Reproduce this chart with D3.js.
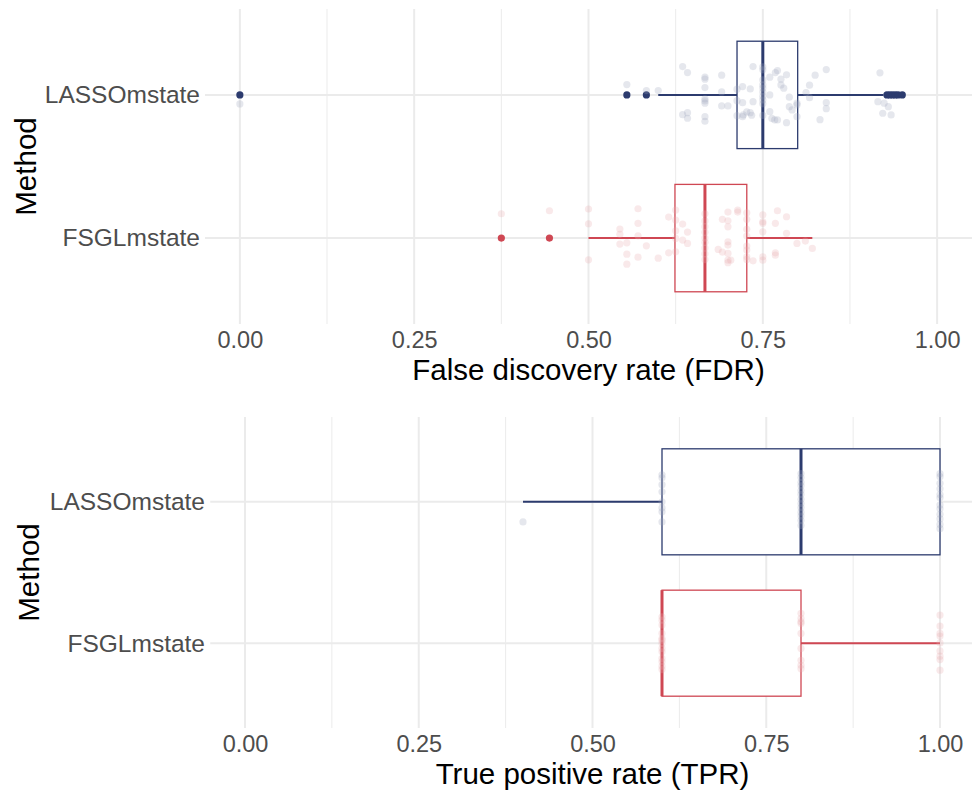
<!DOCTYPE html>
<html>
<head>
<meta charset="utf-8">
<script src="https://cdn.jsdelivr.net/npm/d3@7"></script>
<style>
  html, body { margin: 0; padding: 0; background: #fff; }
  svg { display: block; font-family: "Liberation Sans", Arial, sans-serif; }
</style>
</head>
<body>
<svg id="chart" width="972" height="792"></svg>
<script>
// ---------------- DATA ----------------
const methods = ["LASSOmstate", "FSGLmstate"];
const methodColors = ["#2C3B6E", "#CF4753"];
const xTicks = [0, 0.25, 0.5, 0.75, 1];
const xTickLabels = ["0.00", "0.25", "0.50", "0.75", "1.00"];
const xMinorTicks = [0.125, 0.375, 0.625, 0.875];

// FDR boxplot statistics (LASSOmstate, FSGLmstate)
const fdrQ1 = [0.713, 0.624];
const fdrMedian = [0.75, 0.667];
const fdrQ3 = [0.8, 0.727];
const fdrWhiskerLow = [0.6, 0.5];
const fdrWhiskerHigh = [0.923, 0.821];
const fdrOutliersLASSO = [0, 0.555, 0.583, 0.928, 0.932, 0.936, 0.94, 0.944, 0.95];
const fdrOutliersFSGL = [0.375, 0.444];

// FDR jittered observations: [value, vertical jitter (category units)]
const fdrPointsLASSO = [
  [0, 0.063], [0.555, -0.072], [0.583, -0.030], [0.6, -0.030],
  [0.635, -0.198], [0.642, -0.156], [0.635, 0.138], [0.642, 0.124], [0.642, 0.163],
  [0.667, -0.124], [0.667, -0.110], [0.667, -0.051], [0.667, 0.028], [0.667, 0.042],
  [0.667, 0.058], [0.667, 0.152], [0.667, 0.184],
  [0.691, -0.138], [0.691, -0.021], [0.691, 0.077], [0.7, 0.077],
  [0.713, -0.040], [0.713, 0.040], [0.713, 0.145],
  [0.721, -0.058], [0.721, 0.054], [0.721, 0.152],
  [0.732, -0.042], [0.736, -0.198], [0.736, 0.047], [0.727, 0.119], [0.732, 0.124],
  [0.722, 0.140], [0.734, 0.142],
  [0.75, -0.196], [0.75, -0.175], [0.75, -0.105], [0.75, -0.070], [0.75, -0.048],
  [0.75, -0.020], [0.75, 0.010], [0.75, 0.035], [0.75, 0.062], [0.75, 0.143],
  [0.76, -0.124], [0.76, 0.0], [0.76, 0.117],
  [0.763, 0.164], [0.767, 0.175], [0.771, 0.175],
  [0.768, -0.156], [0.771, -0.170], [0.776, -0.110], [0.776, -0.070], [0.78, -0.047],
  [0.784, -0.140], [0.784, 0.194], [0.788, 0.016], [0.788, 0.082], [0.792, 0.105],
  [0.799, 0.058], [0.799, 0.070], [0.799, 0.152],
  [0.812, -0.016], [0.817, -0.068], [0.817, 0.019], [0.825, -0.138], [0.832, 0.173],
  [0.841, -0.177], [0.841, 0.054], [0.841, 0.096],
  [0.918, -0.154], [0.915, 0.047], [0.924, 0.058], [0.930, 0.082], [0.922, 0.128], [0.934, 0.140]
];
const fdrPointsFSGL = [
  [0.375, -0.170], [0.444, -0.191],
  [0.5, -0.203], [0.5, -0.100], [0.5, 0.152],
  [0.545, -0.063], [0.545, -0.026], [0.545, 0.042],
  [0.555, 0.033], [0.555, 0.112], [0.555, 0.182],
  [0.571, -0.205], [0.571, -0.103], [0.571, -0.016], [0.571, 0.133],
  [0.583, 0.054], [0.6, 0.140], [0.615, -0.147], [0.615, 0.103],
  [0.625, -0.196], [0.625, -0.126], [0.625, -0.051], [0.625, 0.002], [0.625, 0.096],
  [0.635, -0.098], [0.635, 0.014], [0.642, -0.042], [0.642, 0.037],
  [0.667, -0.170], [0.667, -0.120], [0.667, -0.080], [0.667, -0.040], [0.667, 0.0],
  [0.667, 0.030], [0.667, 0.070], [0.667, 0.110], [0.667, 0.150],
  [0.686, 0.079], [0.692, -0.131], [0.692, 0.098], [0.704, 0.154],
  [0.7, -0.182], [0.7, -0.121], [0.7, -0.079], [0.7, 0.026], [0.7, 0.049],
  [0.7, 0.107], [0.7, 0.154], [0.7, 0.172],
  [0.714, -0.196], [0.714, -0.182],
  [0.727, -0.177], [0.727, -0.131], [0.727, -0.061], [0.727, -0.014], [0.727, 0.056],
  [0.727, 0.084], [0.727, 0.131], [0.727, 0.149],
  [0.736, 0.159],
  [0.75, -0.163], [0.75, -0.114], [0.75, -0.103], [0.75, -0.044], [0.75, 0.131], [0.75, 0.154],
  [0.768, -0.103], [0.768, 0.103], [0.768, 0.119], [0.771, -0.191],
  [0.784, -0.149], [0.784, -0.033], [0.799, 0.037], [0.811, 0.021], [0.821, 0.072]
];

// TPR boxplot statistics (LASSOmstate, FSGLmstate)
const tprQ1 = [0.6, 0.6];
const tprMedian = [0.8, 0.6];
const tprQ3 = [1.0, 0.8];
const tprWhiskerLow = [0.4, 0.6];
const tprWhiskerHigh = [1.0, 1.0];
const tprOutliersLASSO = [];
const tprOutliersFSGL = [];

// TPR jittered observations: [value, vertical jitter (category units)]
const tprPointsLASSO = [
  [0.4, 0.142],
  [0.6, -0.191], [0.6, -0.170], [0.6, -0.121], [0.6, -0.071], [0.6, 0.0],
  [0.6, 0.043], [0.6, 0.071], [0.6, 0.142],
  [0.8, -0.200], [0.8, -0.172], [0.8, -0.138], [0.8, -0.113], [0.8, -0.080], [0.8, -0.052],
  [0.8, -0.018], [0.8, 0.012], [0.8, 0.041], [0.8, 0.073], [0.8, 0.101], [0.8, 0.133], [0.8, 0.168],
  [1.0, -0.199], [1.0, -0.178], [1.0, -0.131], [1.0, -0.092], [1.0, -0.051], [1.0, -0.028],
  [1.0, 0.022], [1.0, 0.049], [1.0, 0.088], [1.0, 0.121], [1.0, 0.160], [1.0, 0.190]
];
const tprPointsFSGL = [
  [0.6, -0.187], [0.6, -0.163], [0.6, -0.128], [0.6, -0.069], [0.6, -0.033], [0.6, -0.021],
  [0.6, 0.002], [0.6, 0.037], [0.6, 0.061], [0.6, 0.108], [0.6, 0.132], [0.6, 0.163], [0.6, 0.187],
  [0.8, -0.211], [0.8, -0.175], [0.8, -0.151], [0.8, -0.140], [0.8, -0.069], [0.8, 0.037],
  [0.8, 0.121], [0.8, 0.156], [0.8, 0.180],
  [1.0, -0.199], [1.0, -0.121], [1.0, -0.069], [1.0, -0.050], [1.0, -0.002], [1.0, 0.055],
  [1.0, 0.092], [1.0, 0.116], [1.0, 0.191]
];

// ---------------- DRAWING ----------------
const svg = d3.select("#chart");

function panel(cfg) {
  const g = svg.append("g");
  const x = d3.scaleLinear().domain([-0.05, 1.05]).range([cfg.left, cfg.right]);
  const y = d3.scalePoint().domain(methods).range([cfg.top, cfg.bottom]).padding(0.6);
  const step = y.step();

  // grid
  g.append("g").selectAll("line.minor").data(xMinorTicks).join("line")
    .attr("x1", d => x(d)).attr("x2", d => x(d))
    .attr("y1", cfg.top).attr("y2", cfg.bottom)
    .attr("stroke", "#EBEBEB").attr("stroke-width", 1);
  g.append("g").selectAll("line.major").data(xTicks).join("line")
    .attr("x1", d => x(d)).attr("x2", d => x(d))
    .attr("y1", cfg.top).attr("y2", cfg.bottom)
    .attr("stroke", "#EBEBEB").attr("stroke-width", 2);
  g.append("g").selectAll("line.hgrid").data(methods).join("line")
    .attr("x1", cfg.left).attr("x2", cfg.right)
    .attr("y1", d => y(d)).attr("y2", d => y(d))
    .attr("stroke", "#EBEBEB").attr("stroke-width", 2);

  // x axis (labels only, theme_minimal)
  const xAxis = d3.axisBottom(x).tickValues(xTicks)
    .tickFormat((d, i) => xTickLabels[i]).tickSize(0).tickPadding(0);
  const ax = g.append("g").attr("transform", `translate(0,${cfg.tickY})`).call(xAxis);
  ax.select(".domain").remove();
  ax.selectAll("text").attr("fill", "#4D4D4D").attr("font-size", 23.5)
    .attr("dy", "0").attr("y", 0).attr("font-family", "Liberation Sans, Arial, sans-serif");

  // y axis
  const yAxis = d3.axisLeft(y).tickSize(0).tickPadding(0);
  const ay = g.append("g").attr("transform", `translate(${cfg.yLabelX},0)`).call(yAxis);
  ay.select(".domain").remove();
  ay.selectAll("text").attr("fill", "#4D4D4D").attr("font-size", 24.5)
    .attr("font-family", "Liberation Sans, Arial, sans-serif");

  // titles
  g.append("text").attr("x", (x(0) + x(1)) / 2).attr("y", cfg.titleY)
    .attr("text-anchor", "middle").attr("font-size", 29.5).attr("fill", "#000")
    .text(cfg.xTitle);
  g.append("text")
    .attr("transform", `translate(${cfg.yTitleX},${(cfg.top + cfg.bottom) / 2}) rotate(-90)`)
    .attr("text-anchor", "middle").attr("font-size", 29.5).attr("fill", "#000")
    .text("Method");

  const bw = step * 0.75;
  methods.forEach((m, i) => {
    const col = methodColors[i];
    const cy = y(m);
    const bg = g.append("g");
    // whiskers
    bg.append("line").attr("x1", x(cfg.wl[i])).attr("x2", x(cfg.q1[i]))
      .attr("y1", cy).attr("y2", cy).attr("stroke", col).attr("stroke-width", 2);
    bg.append("line").attr("x1", x(cfg.q3[i])).attr("x2", x(cfg.wh[i]))
      .attr("y1", cy).attr("y2", cy).attr("stroke", col).attr("stroke-width", 2);
    // box
    bg.append("rect").attr("x", x(cfg.q1[i])).attr("y", cy - bw / 2)
      .attr("width", x(cfg.q3[i]) - x(cfg.q1[i])).attr("height", bw)
      .attr("fill", "#fff").attr("stroke", col).attr("stroke-width", 1.3);
    // median
    bg.append("line").attr("x1", x(cfg.med[i])).attr("x2", x(cfg.med[i]))
      .attr("y1", cy - bw / 2).attr("y2", cy + bw / 2)
      .attr("stroke", col).attr("stroke-width", 3);
    // outliers
    bg.selectAll("circle.out").data(cfg.outliers[i]).join("circle")
      .attr("cx", d => x(d)).attr("cy", cy).attr("r", 3.6).attr("fill", col);
  });

  // jittered points on top
  methods.forEach((m, i) => {
    const col = methodColors[i];
    const tint = d3.interpolateRgb(col, "#ffffff")(0.55);
    g.append("g").selectAll("circle").data(cfg.points[i]).join("circle")
      .attr("cx", d => x(d[0]))
      .attr("cy", d => y(m) + d[1] * step)
      .attr("r", 3.6).attr("fill", tint).attr("fill-opacity", 0.27);
  });
}

panel({
  left: 205, right: 972, top: 9, bottom: 324,
  tickY: 348, titleY: 380, yLabelX: 200, yTitleX: 36,
  xTitle: "False discovery rate (FDR)",
  q1: fdrQ1, med: fdrMedian, q3: fdrQ3, wl: fdrWhiskerLow, wh: fdrWhiskerHigh,
  outliers: [fdrOutliersLASSO, fdrOutliersFSGL],
  points: [fdrPointsLASSO, fdrPointsFSGL]
});

panel({
  left: 210.25, right: 974.75, top: 417, bottom: 728,
  tickY: 752, titleY: 784, yLabelX: 205, yTitleX: 39,
  xTitle: "True positive rate (TPR)",
  q1: tprQ1, med: tprMedian, q3: tprQ3, wl: tprWhiskerLow, wh: tprWhiskerHigh,
  outliers: [tprOutliersLASSO, tprOutliersFSGL],
  points: [tprPointsLASSO, tprPointsFSGL]
});
</script>
</body>
</html>
